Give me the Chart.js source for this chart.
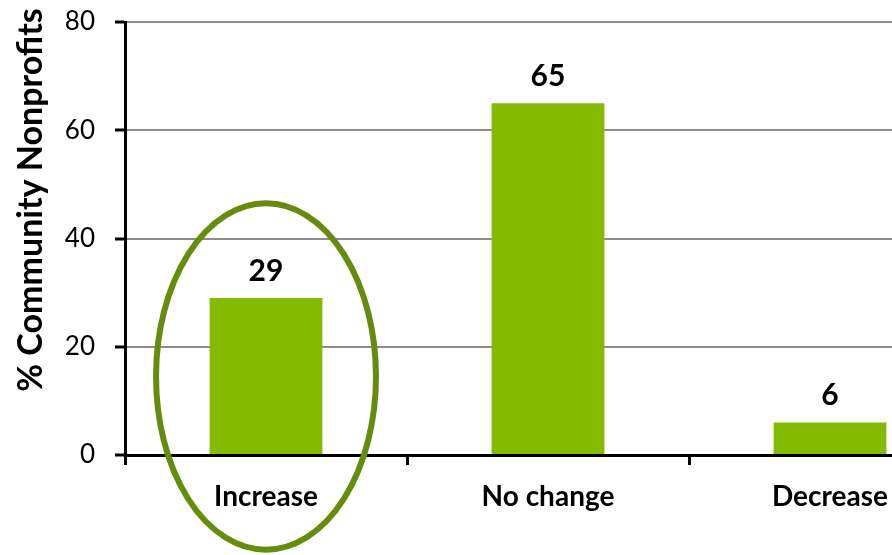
<!DOCTYPE html>
<html>
<head>
<meta charset="utf-8">
<script src="https://cdn.jsdelivr.net/npm/chart.js@4/dist/chart.umd.min.js"></script>
<style>
  html, body { margin: 0; padding: 0; background: #fff; overflow: hidden; }
  #wrap { width: 892px; height: 555px; overflow: hidden; }
</style>
</head>
<body>
<div id="wrap"><canvas id="changeChart" width="980" height="555"></canvas></div>
<script>
const categories = ['Increase', 'No change', 'Decrease'];
const percentValues = [29, 65, 6];
const yTicks = [0, 20, 40, 60, 80];
const yTitle = '% Community Nonprofits';

const barGreen = '#84bb00';
const ringGreen = '#668c0e';
const fontFamily = 'Lato, "Open Sans", sans-serif';

// value labels above each bar
const valueLabels = {
  id: 'valueLabels',
  afterDatasetsDraw(chart) {
    const ctx = chart.ctx;
    const meta = chart.getDatasetMeta(0);
    ctx.save();
    ctx.font = 'bold 30px ' + fontFamily;
    ctx.fillStyle = '#000';
    ctx.textAlign = 'center';
    ctx.textBaseline = 'middle';
    meta.data.forEach((bar, i) => {
      ctx.fillText(String(percentValues[i]), bar.x, bar.y - 27);
    });
    ctx.restore();
  }
};

// ellipse drawn around the first category
const highlightRing = {
  id: 'highlightRing',
  afterDraw(chart) {
    const { ctx, scales: { x, y } } = chart;
    const cx = x.getPixelForValue(0);
    const cy = y.getPixelForValue(percentValues[0] / 2);
    const catWidth = x.getPixelForValue(1) - x.getPixelForValue(0);
    const rx = catWidth * 0.39;
    const ry = y.getPixelForValue(0) - y.getPixelForValue(32);
    ctx.save();
    ctx.strokeStyle = ringGreen;
    ctx.lineWidth = 6;
    ctx.beginPath();
    ctx.ellipse(cx, cy, rx, ry, 0, 0, Math.PI * 2);
    ctx.stroke();
    ctx.restore();
  }
};

// rotated y axis title
const axisTitle = {
  id: 'axisTitle',
  afterDraw(chart) {
    const ctx = chart.ctx;
    ctx.save();
    ctx.translate(31, 200);
    ctx.rotate(-Math.PI / 2);
    ctx.font = 'bold 34px ' + fontFamily;
    ctx.fillStyle = '#000';
    ctx.textAlign = 'center';
    ctx.textBaseline = 'middle';
    ctx.fillText(yTitle, 0, 0);
    ctx.restore();
  }
};

const ctx = document.getElementById('changeChart').getContext('2d');
new Chart(ctx, {
  type: 'bar',
  data: {
    labels: categories,
    datasets: [{
      data: percentValues,
      backgroundColor: barGreen,
      borderWidth: 0,
      categoryPercentage: 0.4,
      barPercentage: 1.0
    }]
  },
  options: {
    responsive: false,
    animation: false,
    layout: { padding: { left: 0, top: 22, right: 9, bottom: 0 } },
    plugins: {
      legend: { display: false },
      tooltip: { enabled: false }
    },
    scales: {
      x: {
        afterFit(scale) {
          scale.height = 100;
          scale.paddingLeft = 0;
          scale.paddingRight = 0;
        },
        grid: {
          offset: true,
          drawOnChartArea: false,
          drawTicks: true,
          tickLength: 10,
          tickColor: '#000',
          lineWidth: 3
        },
        border: { color: '#000', width: 3 },
        ticks: {
          color: '#000',
          padding: 15,
          font: { family: fontFamily, size: 28, weight: 'bold' }
        }
      },
      y: {
        min: 0,
        max: 80,
        afterFit(scale) {
          scale.width = 125;
          scale.paddingTop = 0;
          scale.paddingBottom = 0;
        },
        afterBuildTicks(scale) {
          scale.ticks = yTicks.map(v => ({ value: v }));
        },
        grid: {
          color: '#8c8c8c',
          lineWidth: 2,
          tickColor: '#000',
          tickLength: 10,
          tickWidth: 3
        },
        border: { color: '#000', width: 3 },
        ticks: {
          color: '#000',
          padding: 20,
          font: { family: fontFamily, size: 26 }
        }
      }
    }
  },
  plugins: [valueLabels, highlightRing, axisTitle]
});
</script>
</body>
</html>
